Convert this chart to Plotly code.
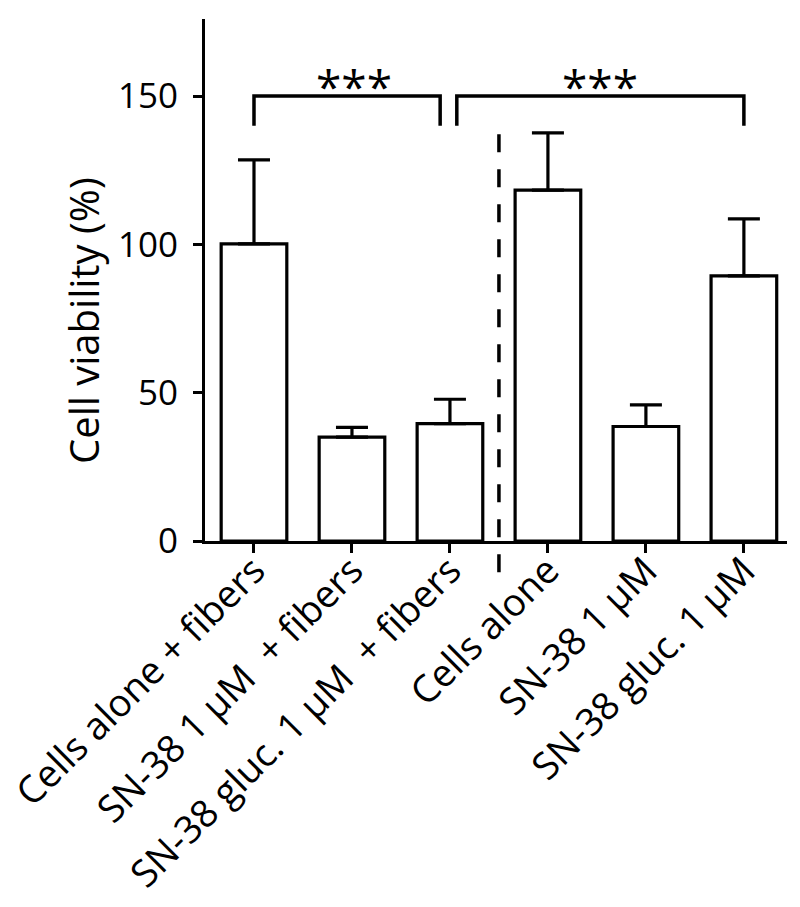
import plotly.graph_objects as go

categories = ["Cells alone + fibers", "SN-38 1 µM  + fibers", "SN-38 gluc. 1 µM  + fibers",
              "Cells alone", "SN-38 1 µM", "SN-38 gluc. 1 µM"]
means = [100.2, 35.0, 39.6, 118.3, 38.6, 89.4]
err_plus = [28.3, 3.3, 8.2, 19.3, 7.3, 19.2]
y_ticks = [0, 50, 100, 150]

bracket1_x = [0, 0, 1.9, 1.9]
bracket1_y = [140, 150, 150, 140]
bracket2_x = [2.07, 2.07, 5, 5]
bracket2_y = [140, 150, 150, 140]
star_labels = ["***", "***"]
star_x = [1.02, 3.53]
star_y = [150, 150]
sep_x = 2.5
sep_y = [-10.5, 141]

Y_MAX = 176
FONT = "Open Sans"

fig = go.Figure()
fig.add_trace(go.Bar(
    x=list(range(len(categories))), y=means, width=0.67,
    marker=dict(color="white", line=dict(color="black", width=3.2)),
    error_y=dict(type="data", array=err_plus, arrayminus=[0]*len(means), symmetric=False,
                 color="black", thickness=3.2, width=16),
    showlegend=False, hoverinfo="skip",
))
for bx, by in [(bracket1_x, bracket1_y), (bracket2_x, bracket2_y)]:
    fig.add_trace(go.Scatter(x=bx, y=by, mode="lines",
                             line=dict(color="black", width=3.5),
                             showlegend=False, hoverinfo="skip"))
for sx, sy, lab in zip(star_x, star_y, star_labels):
    fig.add_annotation(x=sx, y=sy, text=lab, showarrow=False, xref="x", yref="y",
                       yanchor="bottom", yshift=-23,
                       font=dict(family=FONT, size=46, color="black"))

fig.add_shape(type="line", xref="x", yref="paper", x0=sep_x, x1=sep_x,
              y0=sep_y[0] / Y_MAX, y1=sep_y[1] / Y_MAX,
              line=dict(color="black", width=3.5, dash="18px,17px"))

fig.add_annotation(text="Cell viability (%)", textangle=-90, xref="paper", yref="paper",
                   x=-0.21, y=0.423, xanchor="center", yanchor="middle",
                   showarrow=False, font=dict(family=FONT, size=40, color="black"))

fig.update_layout(
    width=800, height=907,
    margin=dict(l=197, r=21, t=11, b=374),
    plot_bgcolor="white", paper_bgcolor="white",
    font=dict(family=FONT, size=35, color="black"),
    xaxis=dict(range=[-0.5, 5.44], tickmode="array", tickvals=list(range(len(categories))),
               ticktext=categories, tickangle=-45, showline=True, linecolor="black",
               linewidth=3, ticks="outside", ticklen=9, tickwidth=3, tickcolor="black",
               automargin=False, ticklabeloverflow="allow", ticklabelstandoff=-20,
               showgrid=False, zeroline=False, tickfont=dict(family=FONT, size=38)),
    yaxis=dict(range=[0, Y_MAX], tickvals=y_ticks, showline=True, linecolor="black",
               linewidth=3, ticks="outside", ticklen=9, tickwidth=3, tickcolor="black",
               ticklabelstandoff=8, automargin=False,
               showgrid=False, zeroline=False, tickfont=dict(family=FONT, size=35)),
)

fig.write_html("out.html")
